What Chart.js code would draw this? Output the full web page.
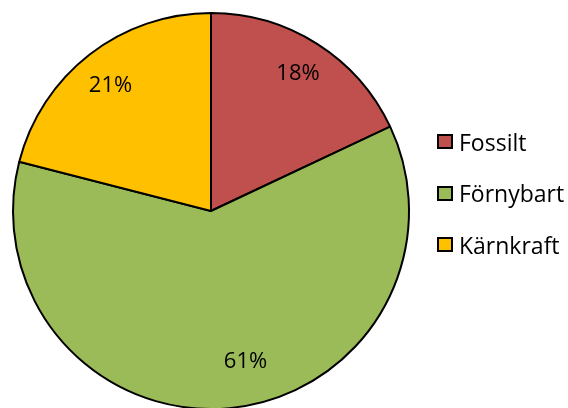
<!DOCTYPE html>
<html>
<head>
<meta charset="utf-8">
<script src="https://cdn.jsdelivr.net/npm/chart.js@4.4.1/dist/chart.umd.min.js"></script>
<style>
  html, body { margin: 0; padding: 0; background: #fff; }
  #wrap { position: relative; width: 568px; height: 408px; overflow: hidden; }
  #pie { position: absolute; left: 0; top: 0; }
  .item { position: absolute; left: 437px; height: 24px; display: flex; align-items: center;
          font-family: "Open Sans", Lato, sans-serif; font-size: 23px; color: #000; }
  .box { width: 12px; height: 11px; border: 2px solid #000; margin-right: 6px; }
</style>
</head>
<body>
<div id="wrap">
  <canvas id="pie" width="568" height="422"></canvas>
</div>
<script>
// Datos del gráfico (porcentajes por fuente de energía)
const categories = ["Fossilt", "Förnybart", "Kärnkraft"];
const shares = [18, 61, 21];
const colors = ["#C0504D", "#9BBB59", "#FFC000"];

// Posición de las etiquetas dentro de cada porción (radio relativo, giro en grados)
const labelPlace = [
  { r: 0.82, turn: 0 },
  { r: 0.78, turn: -7.5 },
  { r: 0.81, turn: -1 },
];

// Plugin sencillo para escribir el % dentro de cada porción
const pctLabels = {
  id: "pctLabels",
  afterDatasetsDraw(chart) {
    const ctx = chart.ctx;
    const arcs = chart.getDatasetMeta(0).data;
    ctx.save();
    ctx.font = "22px 'Open Sans', Lato, sans-serif";
    ctx.fillStyle = "#000";
    ctx.textAlign = "center";
    ctx.textBaseline = "middle";
    arcs.forEach((arc, i) => {
      const p = arc.getProps(["x", "y", "startAngle", "endAngle", "outerRadius"], true);
      const mid = (p.startAngle + p.endAngle) / 2 + labelPlace[i].turn * Math.PI / 180;
      const rr = p.outerRadius * labelPlace[i].r;
      ctx.fillText(shares[i] + "%", p.x + Math.cos(mid) * rr, p.y + Math.sin(mid) * rr);
    });
    ctx.restore();
  },
};

new Chart(document.getElementById("pie"), {
  type: "pie",
  data: {
    labels: categories,
    datasets: [{
      data: shares,
      backgroundColor: colors,
      borderColor: "#000",
      borderWidth: 2,
    }],
  },
  options: {
    responsive: false,
    animation: false,
    layout: { padding: { left: 12, right: 158, top: 12, bottom: 12 } },
    plugins: {
      legend: { display: false },
      tooltip: { enabled: false },
    },
  },
  plugins: [pctLabels],
});

// Leyenda a la derecha (HTML)
const wrap = document.getElementById("wrap");
const rowTops = [129.5, 181, 232.5];
categories.forEach((name, i) => {
  const row = document.createElement("div");
  row.className = "item";
  row.style.top = rowTops[i] + "px";
  const box = document.createElement("span");
  box.className = "box";
  box.style.background = colors[i];
  const txt = document.createElement("span");
  txt.textContent = name;
  row.appendChild(box);
  row.appendChild(txt);
  wrap.appendChild(row);
});
</script>
</body>
</html>
